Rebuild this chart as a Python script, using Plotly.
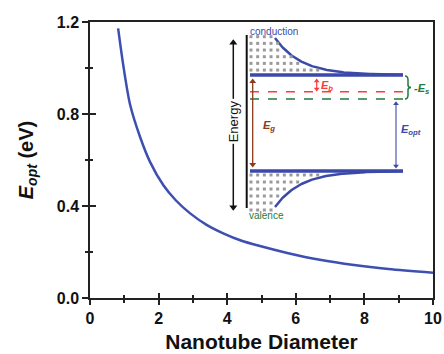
import math
import plotly.graph_objects as go

# ---- data ----
diameter = [0.82, 0.97, 1.17, 1.46, 1.75, 2.14, 2.50, 2.92, 3.40, 3.90,
            4.40, 4.90, 5.75, 6.70, 7.70, 8.70, 10.0]
e_opt = [1.172, 1.012, 0.840, 0.700, 0.592, 0.490, 0.425, 0.368, 0.318, 0.280,
         0.250, 0.228, 0.196, 0.166, 0.143, 0.126, 0.110]
x_ticks = [0, 2, 4, 6, 8, 10]
y_ticks = [0.0, 0.4, 0.8, 1.2]
y_tick_labels = ["0.0", "0.4", "0.8", "1.2"]

BLUE = "#3B49A8"
CURVE = "#3D4FB0"
RED = "#FF3A3A"
GREEN = "#1E7B3C"
BROWN = "#8B3A1A"
AX = "#222222"
FONT = "Liberation Sans, Arial, sans-serif"

fig = go.Figure()
fig.add_trace(go.Scatter(x=diameter, y=e_opt, mode="lines",
                         line=dict(color=CURVE, width=2.5, shape="spline", smoothing=0.8),
                         xaxis="x", yaxis="y", hoverinfo="skip", showlegend=False))

# ---- schematic inset geometry (pixel-like coordinates on hidden axes) ----
CB_Y, VB_Y = 75, 171
BAND_X0, BAND_X1 = 250, 403
CURVE_X0, K = 275, 26.0

def cond_curve(x):
    return CB_Y - 37 * math.exp(-(x - CURVE_X0) / K)

def val_curve(x):
    return VB_Y + 36 * math.exp(-(x - CURVE_X0) / K)

cx = [CURVE_X0 + i * 1.0 for i in range(0, 129)]
fig.add_trace(go.Scatter(x=cx, y=[cond_curve(v) for v in cx], mode="lines", line=dict(color=BLUE, width=2.5),
                         xaxis="x3", yaxis="y3", hoverinfo="skip", showlegend=False))
fig.add_trace(go.Scatter(x=cx, y=[val_curve(v) for v in cx], mode="lines", line=dict(color=BLUE, width=2.5),
                         xaxis="x3", yaxis="y3", hoverinfo="skip", showlegend=False))

dx, dy = [], []
for i in range(20):
    x = 251 + i * 6.67
    for j in range(6):
        y = 36.7 + j * 6.67
        if y > cond_curve(x) + 1.5 and y < CB_Y - 2:
            dx.append(x); dy.append(y)
        y2 = 175 + j * 7.0
        if y2 < val_curve(x) - 1.5 and y2 > VB_Y + 2:
            dx.append(x); dy.append(y2)
fig.add_trace(go.Scatter(x=dx, y=dy, mode="markers", marker=dict(symbol="square", size=3, color="#9a9a9a"),
                         xaxis="x3", yaxis="y3", hoverinfo="skip", showlegend=False))

shapes = [
    dict(type="line", xref="x3", yref="y3", x0=246.7, x1=246.7, y0=35, y1=208, line=dict(color="#111", width=2)),
    dict(type="line", xref="x3", yref="y3", x0=BAND_X0, x1=BAND_X1, y0=CB_Y, y1=CB_Y, line=dict(color=BLUE, width=3.5)),
    dict(type="line", xref="x3", yref="y3", x0=BAND_X0, x1=BAND_X1, y0=VB_Y, y1=VB_Y, line=dict(color=BLUE, width=3.5)),
    dict(type="line", xref="x3", yref="y3", x0=250, x1=404, y0=91.7, y1=91.7, line=dict(color=RED, width=1.5, dash="dash")),
    dict(type="line", xref="x3", yref="y3", x0=250, x1=404, y0=99, y1=99, line=dict(color=GREEN, width=1.5, dash="dash")),
    dict(type="path", xref="x3", yref="y3",
         path="M 405 76 Q 408 76 408 80 L 408 85 Q 408 87.5 411 87.5 Q 408 87.5 408 90 L 408 95 Q 408 99 405 99",
         line=dict(color=GREEN, width=1.5)),
]

# double-headed arrows: shaft as a shape, heads as triangle markers
arrows = [  # x, top, bottom, color, width, head size
    (233.3, 40, 210, "#111", 1.5, 7),
    (316.7, 79, 91, RED, 1.2, 5),
    (252.7, 79, 167, BROWN, 1.3, 6),
    (396, 101.7, 168, BLUE, 1.1, 5),
]
for (ax_, top, bot, col, w, hs) in arrows:
    hh = hs * 0.8
    shapes.append(dict(type="line", xref="x3", yref="y3", x0=ax_, x1=ax_, y0=top + hh * 0.6, y1=bot - hh * 0.6,
                       line=dict(color=col, width=w)))
    fig.add_trace(go.Scatter(x=[ax_, ax_], y=[top + hh / 2, bot - hh / 2], mode="markers",
                             marker=dict(symbol=["triangle-up", "triangle-down"], size=hs, color=col,
                                         line=dict(width=0)),
                             xaxis="x3", yaxis="y3", hoverinfo="skip", showlegend=False))

def label(x, y, text, color, size, xanchor="left", angle=0, bg=None):
    d = dict(x=x, y=y, xref="x3", yref="y3", text=text, showarrow=False, xanchor=xanchor, yanchor="middle",
             font=dict(family=FONT, size=size, color=color), textangle=angle)
    if bg:
        d["bgcolor"] = bg
        d["borderpad"] = 1
    return d

annotations = [
    label(233.3, 121, "Energy", "#111", 13, xanchor="center", angle=-90, bg="white"),
    label(248, 31.5, "conduction", BLUE, 10),
    label(247, 215.5, "valence", GREEN, 10),
    label(319, 86, "<b><i>E</i><sub><i>b</i></sub></b>", RED, 11),
    label(412, 88.5, "<b>-<i>E</i><sub><i>s</i></sub></b>", GREEN, 11),
    label(261, 126, "<b><i>E</i><sub><i>g</i></sub></b>", BROWN, 11),
    label(399, 130, "<b><i>E</i><sub><i>opt</i></sub></b>", BLUE, 11),
]

fig.update_layout(
    width=444, height=354,
    margin=dict(l=90, r=11, t=22, b=56, autoexpand=False),
    plot_bgcolor="white", paper_bgcolor="white",
    font=dict(family=FONT, color="#111"),
    shapes=shapes, annotations=annotations,
    xaxis=dict(range=[0, 10], tickvals=x_ticks, ticktext=[str(v) for v in x_ticks], automargin=False,
               ticks="outside", ticklen=5, tickwidth=1.5, tickcolor=AX,
               minor=dict(dtick=1, ticks="outside", ticklen=3, tickwidth=1.5, tickcolor=AX),
               showline=True, linewidth=1.5, linecolor=AX, mirror=True, showgrid=False, zeroline=False,
               tickfont=dict(family=FONT, size=16, color="#111", weight="bold"),
               title=dict(text="Nanotube Diameter", font=dict(family=FONT, size=21, color="#111", weight="bold"),
                          standoff=8)),
    yaxis=dict(range=[0, 1.2], tickvals=y_ticks, ticktext=y_tick_labels, automargin=False,
               ticks="outside", ticklen=6, tickwidth=1.5, tickcolor=AX,
               minor=dict(dtick=0.2, ticks="outside", ticklen=3, tickwidth=1.5, tickcolor=AX),
               showline=True, linewidth=1.5, linecolor=AX, mirror=True, showgrid=False, zeroline=False,
               tickfont=dict(family=FONT, size=16, color="#111", weight="bold"),
               title=dict(text="<i>E</i><sub><i>opt</i></sub> (eV)",
                          font=dict(family=FONT, size=20, color="#111", weight="bold"), standoff=18)),
    xaxis2=dict(overlaying="x", matches="x", range=[0, 10], tickvals=x_ticks, showticklabels=False, automargin=False,
                ticks="inside", ticklen=5, tickwidth=1.5, tickcolor=AX,
                minor=dict(dtick=1, ticks="inside", ticklen=3, tickwidth=1.5, tickcolor=AX),
                showline=False, showgrid=False, zeroline=False),
    yaxis2=dict(overlaying="y", range=[0, 1.2], tickvals=y_ticks, showticklabels=False, automargin=False,
                ticks="inside", ticklen=6, tickwidth=1.5, tickcolor=AX,
                minor=dict(dtick=0.2, ticks="inside", ticklen=3, tickwidth=1.5, tickcolor=AX),
                showline=False, showgrid=False, zeroline=False),
    xaxis3=dict(overlaying="x", range=[90, 433], visible=False, fixedrange=True, automargin=False),
    yaxis3=dict(overlaying="y", range=[298, 22], visible=False, fixedrange=True, automargin=False),
)
# dummy trace to activate the overlay tick axes
fig.add_trace(go.Scatter(x=[None], y=[None], xaxis="x2", yaxis="y2", showlegend=False, hoverinfo="skip"))

fig.write_html("out.html")
